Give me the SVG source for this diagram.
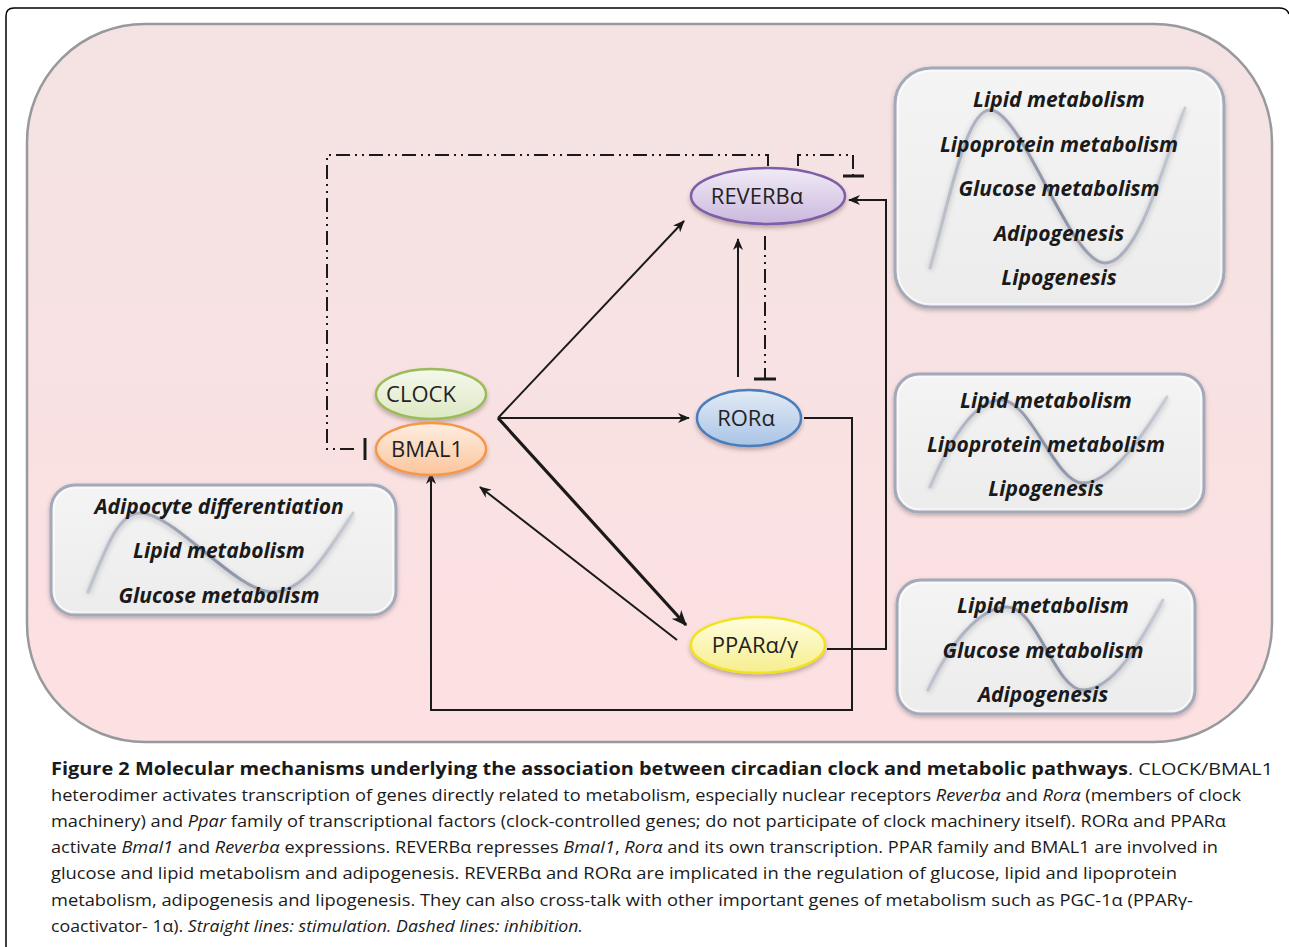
<svg xmlns="http://www.w3.org/2000/svg" width="1289" height="947" viewBox="0 0 1289 947">
<defs>
<style>
.box{fill:url(#boxFill);stroke:#a3a9b8;stroke-width:3;filter:url(#shadow)}
.boxIn{fill:none;stroke:#ffffff;stroke-width:1.2;opacity:0.9}
.wave{fill:none;stroke:url(#waveGrad);stroke-width:3;stroke-linecap:round}
.waveSh{fill:none;stroke:#8c8c96;stroke-width:5;opacity:0.35;filter:url(#blur)}
.bt{font-family:"Open Sans","Liberation Sans",sans-serif;font-weight:bold;font-style:italic;font-size:21px;fill:#1a1a1a;text-anchor:middle}
.nl{font-family:"Open Sans","Liberation Sans",sans-serif;font-size:22px;fill:#222;text-anchor:middle}
.ln{fill:none;stroke:#1a1a1a;stroke-width:2}
.dd{fill:none;stroke:#1a1a1a;stroke-width:2;stroke-dasharray:14 5 2 5 2 5}
.bar{fill:none;stroke:#1a1a1a;stroke-width:3}
.cap{font-family:"Open Sans","Liberation Sans",sans-serif;font-size:17px;fill:#1a1a1a}
.capb{font-family:"Open Sans","Liberation Sans",sans-serif;font-size:17px;font-weight:bold;fill:#1a1a1a}
.it{font-style:italic}
</style>
<linearGradient id="bg" x1="0" y1="0" x2="0" y2="1">
<stop offset="0" stop-color="#f4e3e2"/><stop offset="1" stop-color="#fde0e2"/>
</linearGradient>
<linearGradient id="boxFill" x1="0" y1="0" x2="0" y2="1">
<stop offset="0" stop-color="#f4f4f4"/><stop offset="1" stop-color="#ececec"/>
</linearGradient>
<linearGradient id="waveGrad" x1="0" y1="0" x2="1" y2="0">
<stop offset="0" stop-color="#c0c4d0"/><stop offset="0.5" stop-color="#8a91a6"/><stop offset="1" stop-color="#c8ccd6"/>
</linearGradient>
<linearGradient id="gPurple" x1="0" y1="0" x2="0" y2="1">
<stop offset="0" stop-color="#f1ebf6"/><stop offset="1" stop-color="#cbb8de"/>
</linearGradient>
<linearGradient id="gGreen" x1="0" y1="0" x2="0" y2="1">
<stop offset="0" stop-color="#f5f8ec"/><stop offset="1" stop-color="#dde9c4"/>
</linearGradient>
<linearGradient id="gOrange" x1="0" y1="0" x2="0" y2="1">
<stop offset="0" stop-color="#feeee2"/><stop offset="1" stop-color="#fbc59c"/>
</linearGradient>
<linearGradient id="gBlue" x1="0" y1="0" x2="0" y2="1">
<stop offset="0" stop-color="#e3ebf5"/><stop offset="1" stop-color="#a9c4e6"/>
</linearGradient>
<linearGradient id="gYellow" x1="0" y1="0" x2="0" y2="1">
<stop offset="0" stop-color="#fffde0"/><stop offset="1" stop-color="#f6ee8c"/>
</linearGradient>
<filter id="shadow" x="-10%" y="-10%" width="120%" height="130%">
<feDropShadow dx="0" dy="2" stdDeviation="2" flood-color="#000" flood-opacity="0.25"/>
</filter>
<filter id="nshadow" x="-20%" y="-20%" width="140%" height="160%">
<feDropShadow dx="0" dy="3" stdDeviation="2" flood-color="#5a3a3a" flood-opacity="0.35"/>
</filter>
<filter id="blur" x="-10%" y="-10%" width="120%" height="120%">
<feGaussianBlur stdDeviation="2.5"/>
</filter>
<marker id="arr" viewBox="0 0 12 10" refX="11" refY="5" markerWidth="12" markerHeight="10" markerUnits="userSpaceOnUse" orient="auto">
<path d="M0,0 L12,5 L0,10 L3.5,5 z" fill="#1a1a1a"/>
</marker>
<marker id="arrB" viewBox="0 0 12 10" refX="11" refY="5" markerWidth="16" markerHeight="13" markerUnits="userSpaceOnUse" orient="auto">
<path d="M0,0 L12,5 L0,10 L3.5,5 z" fill="#1a1a1a"/>
</marker>
</defs>

<rect x="0" y="0" width="1289" height="947" fill="#ffffff"/>
<path d="M1289,14 Q1287,8 1279,8 H14 Q6,8 6,16 V947" fill="none" stroke="#000" stroke-width="1.5"/>

<g id="background">
<rect x="27" y="24" width="1245" height="718" rx="118" ry="118" fill="url(#bg)" stroke="#97999c" stroke-width="2.5"/>
</g>

<g id="box-reverb-functions">
<rect class="box" x="895" y="68" width="329" height="239" rx="36"/>
<rect class="boxIn" x="898" y="71" width="323" height="233" rx="33"/>
<path class="waveSh" d="M930,270 C950,200 966,112 990,112 C1022,112 1070,265 1105,265 C1140,265 1168,150 1185,110"/>
<path class="wave" d="M930,268 C950,198 966,110 990,110 C1022,110 1070,263 1105,263 C1140,263 1168,148 1185,108"/>
<text class="bt" x="1059" y="107">Lipid metabolism</text>
<text class="bt" x="1059" y="152">Lipoprotein metabolism</text>
<text class="bt" x="1059" y="196">Glucose metabolism</text>
<text class="bt" x="1059" y="241">Adipogenesis</text>
<text class="bt" x="1059" y="285">Lipogenesis</text>
</g>

<g id="box-ror-functions">
<rect class="box" x="895" y="374" width="309" height="138" rx="24"/>
<rect class="boxIn" x="898" y="377" width="303" height="132" rx="21"/>
<path class="waveSh" d="M930,489 C950,442 975,402 1001,402 C1031,402 1055,485 1083,485 C1110,485 1140,442 1167,399"/>
<path class="wave" d="M930,487 C950,440 975,400 1001,400 C1031,400 1055,483 1083,483 C1110,483 1140,440 1167,397"/>
<text class="bt" x="1046" y="408">Lipid metabolism</text>
<text class="bt" x="1046" y="452">Lipoprotein metabolism</text>
<text class="bt" x="1046" y="496">Lipogenesis</text>
</g>

<g id="box-ppar-functions">
<rect class="box" x="897" y="580" width="298" height="134" rx="24"/>
<rect class="boxIn" x="900" y="583" width="292" height="128" rx="21"/>
<path class="waveSh" d="M928,692 C950,645 980,609 1007,609 C1037,609 1055,692 1083,692 C1113,692 1140,645 1163,602"/>
<path class="wave" d="M928,690 C950,643 980,607 1007,607 C1037,607 1055,690 1083,690 C1113,690 1140,643 1163,600"/>
<text class="bt" x="1043" y="613">Lipid metabolism</text>
<text class="bt" x="1043" y="658">Glucose metabolism</text>
<text class="bt" x="1043" y="702">Adipogenesis</text>
</g>

<g id="box-bmal1-functions">
<rect class="box" x="51" y="485" width="345" height="130" rx="24"/>
<rect class="boxIn" x="54" y="488" width="339" height="124" rx="21"/>
<path class="waveSh" d="M88,594 C105,552 118,515 140,515 C175,515 235,594 273,594 C305,594 330,550 353,515"/>
<path class="wave" d="M88,592 C105,550 118,513 140,513 C175,513 235,592 273,592 C305,592 330,548 353,513"/>
<text class="bt" x="219" y="514">Adipocyte differentiation</text>
<text class="bt" x="219" y="558">Lipid metabolism</text>
<text class="bt" x="219" y="603">Glucose metabolism</text>
</g>

<g id="connectors">
<line class="ln" x1="498" y1="418" x2="684" y2="221" marker-end="url(#arr)"/>
<line class="ln" x1="498" y1="418" x2="689" y2="418" marker-end="url(#arr)"/>
<line class="ln" x1="498" y1="418" x2="686" y2="625" style="stroke-width:3.2" marker-end="url(#arrB)"/>
<line class="ln" x1="677" y1="640" x2="480" y2="487" marker-end="url(#arr)"/>
<polyline class="ln" points="804,418 852,418 852,710 431,710 431,473" marker-end="url(#arr)"/>
<polyline class="ln" points="827,649 886,649 886,200 849,200" marker-end="url(#arr)"/>
<line class="ln" x1="738" y1="377" x2="738" y2="239" marker-end="url(#arr)"/>
<line class="dd" x1="765" y1="236" x2="765" y2="378"/>
<line class="bar" x1="754" y1="379" x2="776" y2="379"/>
<polyline class="dd" points="768,166 768,155 327,155 327,449 358,449"/>
<line class="bar" x1="365" y1="438" x2="365" y2="460"/>
<polyline class="dd" points="798,166 798,155 853,155 853,176"/>
<line class="bar" x1="843" y1="176" x2="864" y2="176"/>
</g>

<g id="node-reverb">
<ellipse cx="768" cy="196" rx="77" ry="28" fill="url(#gPurple)" stroke="#7d5fa8" stroke-width="2.5" filter="url(#nshadow)"/>
<text class="nl" x="757" y="204">REVERBα</text>
</g>
<g id="node-clock">
<ellipse cx="431" cy="394" rx="55" ry="25" fill="url(#gGreen)" stroke="#9bbb59" stroke-width="2.5" filter="url(#nshadow)"/>
<text class="nl" x="421" y="402">CLOCK</text>
</g>
<g id="node-bmal1">
<ellipse cx="431" cy="449" rx="55" ry="26" fill="url(#gOrange)" stroke="#f79646" stroke-width="2.5" filter="url(#nshadow)"/>
<text class="nl" x="427" y="457">BMAL1</text>
</g>
<g id="node-ror">
<ellipse cx="749" cy="418" rx="52" ry="28" fill="url(#gBlue)" stroke="#4a7ebb" stroke-width="2.5" filter="url(#nshadow)"/>
<text class="nl" x="746" y="426">RORα</text>
</g>
<g id="node-ppar">
<ellipse cx="758" cy="645" rx="67" ry="28" fill="url(#gYellow)" stroke="#f2e21c" stroke-width="2.5" filter="url(#nshadow)"/>
<text class="nl" x="755" y="653">PPARα/γ</text>
</g>

<g id="caption">
<text class="capb" x="51" y="775" textLength="1077" lengthAdjust="spacingAndGlyphs">Figure 2 Molecular mechanisms underlying the association between circadian clock and metabolic pathways</text>
<text class="cap" x="1128" y="775" textLength="145" lengthAdjust="spacingAndGlyphs">. CLOCK/BMAL1</text>
<text class="cap" x="51" y="801" textLength="1190" lengthAdjust="spacingAndGlyphs">heterodimer activates transcription of genes directly related to metabolism, especially nuclear receptors <tspan class="it">Reverbα</tspan> and <tspan class="it">Rorα</tspan> (members of clock</text>
<text class="cap" x="51" y="827" textLength="1175" lengthAdjust="spacingAndGlyphs">machinery) and <tspan class="it">Ppar</tspan> family of transcriptional factors (clock-controlled genes; do not participate of clock machinery itself). RORα and PPARα</text>
<text class="cap" x="51" y="853" textLength="1167" lengthAdjust="spacingAndGlyphs">activate <tspan class="it">Bmal1</tspan> and <tspan class="it">Reverbα</tspan> expressions. REVERBα represses <tspan class="it">Bmal1</tspan>, <tspan class="it">Rorα</tspan> and its own transcription. PPAR family and BMAL1 are involved in</text>
<text class="cap" x="51" y="879" textLength="1126" lengthAdjust="spacingAndGlyphs">glucose and lipid metabolism and adipogenesis. REVERBα and RORα are implicated in the regulation of glucose, lipid and lipoprotein</text>
<text class="cap" x="51" y="906" textLength="1142" lengthAdjust="spacingAndGlyphs">metabolism, adipogenesis and lipogenesis. They can also cross-talk with other important genes of metabolism such as PGC-1α (PPARγ-</text>
<text class="cap" x="51" y="932" textLength="532" lengthAdjust="spacingAndGlyphs">coactivator- 1α). <tspan class="it">Straight lines: stimulation. Dashed lines: inhibition.</tspan></text>
</g>
</svg>
